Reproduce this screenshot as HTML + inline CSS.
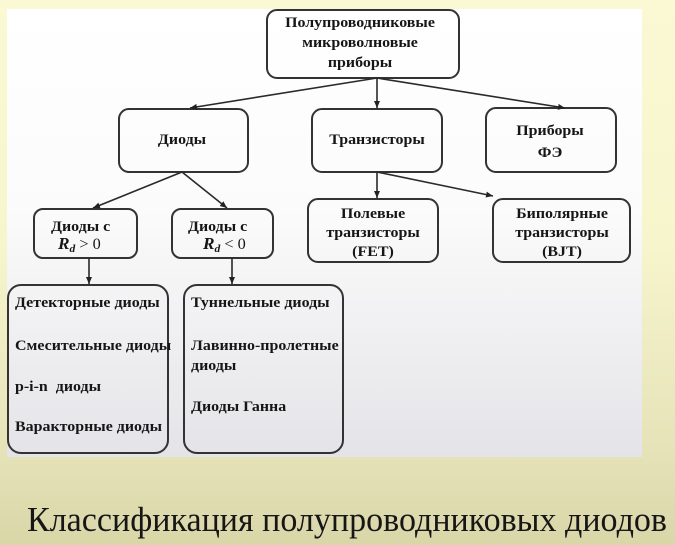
<!DOCTYPE html>
<html>
<head>
<meta charset="utf-8">
<style>
html,body{margin:0;padding:0;}
body{width:675px;height:545px;overflow:hidden;background:linear-gradient(180deg,#fbf9d4 0%,#f7f5cc 45%,#e6e3b9 82%,#d9d6a8 100%);position:relative;}
.panel{position:absolute;left:7px;top:9px;width:635px;height:448px;background:linear-gradient(180deg,#ffffff 0%,#fbfbfb 45%,#e4e3e7 100%);}
svg{position:absolute;left:0;top:0;}
text{font-family:"Liberation Serif","Noto Serif CJK SC",serif;fill:#161616;}
.b{font-weight:bold;font-size:14.5px;}
.m{text-anchor:middle;}
</style>
</head>
<body>
<div class="panel"></div>
<svg width="675" height="545" viewBox="0 0 675 545" xmlns="http://www.w3.org/2000/svg">
<defs>
<marker id="ah" markerWidth="8" markerHeight="8" refX="7" refY="4" orient="auto" markerUnits="userSpaceOnUse">
<path d="M0,1 L7,4 L0,7 Z" fill="#222"/>
</marker>
</defs>
<g fill="none" stroke="#333" stroke-width="2">
<rect x="267" y="10" width="192" height="68" rx="10"/>
<rect x="119" y="109" width="129" height="63" rx="10"/>
<rect x="312" y="109" width="130" height="63" rx="10"/>
<rect x="486" y="108" width="130" height="64" rx="10"/>
<rect x="34" y="209" width="103" height="49" rx="9"/>
<rect x="172" y="209" width="101" height="49" rx="9"/>
<rect x="308" y="199" width="130" height="63" rx="10"/>
<rect x="493" y="199" width="137" height="63" rx="10"/>
<rect x="8" y="285" width="160" height="168" rx="13"/>
<rect x="184" y="285" width="159" height="168" rx="13"/>
</g>
<g stroke="#2a2a2a" stroke-width="1.6" fill="none" marker-end="url(#ah)">
<line x1="377" y1="78" x2="190" y2="108"/>
<line x1="377" y1="78" x2="377" y2="108"/>
<line x1="377" y1="78" x2="565" y2="108"/>
<line x1="182" y1="172" x2="93" y2="208"/>
<line x1="182" y1="172" x2="227" y2="208"/>
<line x1="377" y1="172" x2="377" y2="198"/>
<line x1="377" y1="172" x2="493" y2="196"/>
<line x1="89" y1="258" x2="89" y2="284"/>
<line x1="232" y1="258" x2="232" y2="284"/>
</g>
<text class="b m" transform="translate(360 27) scale(1.1 1)">Полупроводниковые</text>
<text class="b m" transform="translate(360 47) scale(1.1 1)">микроволновые</text>
<text class="b m" transform="translate(360 67) scale(1.1 1)">приборы</text>
<text class="b m" transform="translate(182 144) scale(1.1 1)">Диоды</text>
<text class="b m" transform="translate(377 144) scale(1.1 1)">Транзисторы</text>
<text class="b m" transform="translate(550 135) scale(1.1 1)">Приборы</text>
<text class="b m" transform="translate(550 157) scale(1.1 1)">ФЭ</text>
<text class="b m" transform="translate(373 218) scale(1.1 1)">Полевые</text>
<text class="b m" transform="translate(373 237) scale(1.1 1)">транзисторы</text>
<text class="b m" transform="translate(373 256) scale(1.1 1)">(FET)</text>
<text class="b m" transform="translate(562 218) scale(1.1 1)">Биполярные</text>
<text class="b m" transform="translate(562 237) scale(1.1 1)">транзисторы</text>
<text class="b m" transform="translate(562 256) scale(1.1 1)">(BJT)</text>
<text class="b" transform="translate(51 231) scale(1.1 1)">Диоды с</text>
<text transform="translate(58 249) scale(1.05 1)" style="font-size:16.5px"><tspan font-weight="bold" font-style="italic">R</tspan><tspan font-weight="bold" font-style="italic" font-size="11px" dy="3">d</tspan><tspan dy="-3" font-size="15.5px"> &gt; 0</tspan></text>
<text class="b" transform="translate(188 231) scale(1.1 1)">Диоды с</text>
<text transform="translate(203 249) scale(1.05 1)" style="font-size:16.5px"><tspan font-weight="bold" font-style="italic">R</tspan><tspan font-weight="bold" font-style="italic" font-size="11px" dy="3">d</tspan><tspan dy="-3" font-size="15.5px"> &lt; 0</tspan></text>
<text class="b" transform="translate(15 307) scale(1.1 1)">Детекторные диоды</text>
<text class="b" transform="translate(15 350) scale(1.1 1)">Смесительные диоды</text>
<text class="b" transform="translate(15 391) scale(1.1 1)">p-i-n&#160; диоды</text>
<text class="b" transform="translate(15 431) scale(1.1 1)">Варакторные диоды</text>
<text class="b" transform="translate(191 307) scale(1.1 1)">Туннельные диоды</text>
<text class="b" transform="translate(191 350) scale(1.1 1)">Лавинно-пролетные</text>
<text class="b" transform="translate(191 370) scale(1.1 1)">диоды</text>
<text class="b" transform="translate(191 411) scale(1.1 1)">Диоды Ганна</text>
<text x="27" y="531" style="font-size:35px" textLength="640" lengthAdjust="spacingAndGlyphs">Классификация полупроводниковых диодов</text>
</svg>
</body>
</html>
